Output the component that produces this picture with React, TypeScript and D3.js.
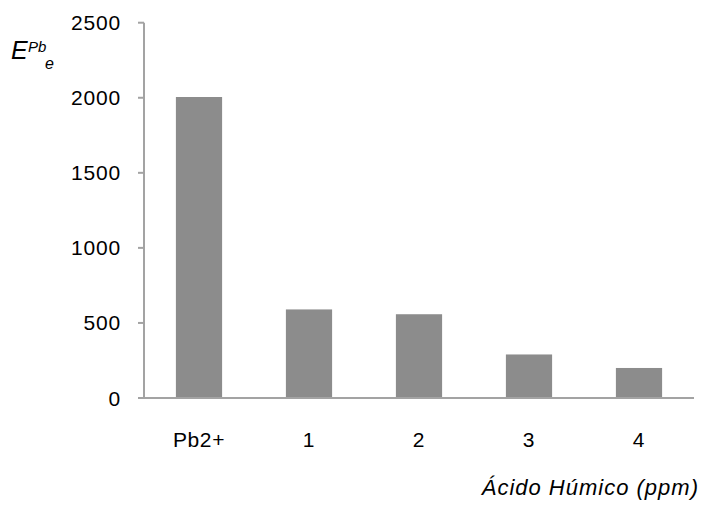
import React from "react";
import * as d3 from "d3";

const categories = ["Pb2+", "1", "2", "3", "4"];
const values = [2005, 590, 558, 290, 200];
const yTicks = [0, 500, 1000, 1500, 2000, 2500];

const W = 702;
const H = 506;
const left = 144;
const right = 694;
const bottom = 398;
const top = 22.7;

const AXIS = "#a3a3a3";
const BAR = "#8c8c8c";
const FONT = "'Liberation Sans', Arial, sans-serif";

export default function App() {
  const x = d3
    .scaleBand<string>()
    .domain(categories)
    .range([left, right])
    .paddingInner(0.58)
    .paddingOuter(0.29);
  const y = d3.scaleLinear().domain([0, 2500]).range([bottom, top]);

  return (
    <svg
      width={W}
      height={H}
      style={{ position: "absolute", left: 0, top: 0, display: "block", background: "#fff" }}
      fontFamily={FONT}
    >
      {/* bars */}
      {categories.map((c, i) => (
        <rect
          key={c}
          x={x(c)}
          y={y(values[i])}
          width={x.bandwidth()}
          height={y(0) - y(values[i])}
          fill={BAR}
        />
      ))}

      {/* y axis */}
      <line x1={left} x2={left} y1={top} y2={bottom} stroke={AXIS} strokeWidth={2} />
      {yTicks.map((t) => (
        <g key={t}>
          <line x1={left - 6} x2={left} y1={y(t)} y2={y(t)} stroke={AXIS} strokeWidth={2} />
          <text
            x={121}
            y={y(t) + 7.5}
            textAnchor="end"
            fontSize={21}
            letterSpacing={0.8}
            fill="#000"
          >
            {t}
          </text>
        </g>
      ))}

      {/* x axis */}
      <line x1={left - 6} x2={right} y1={bottom} y2={bottom} stroke={AXIS} strokeWidth={2} />
      {categories.map((c) => (
        <text
          key={c}
          x={(x(c) ?? 0) + x.bandwidth() / 2}
          y={447}
          textAnchor="middle"
          fontSize={21}
          letterSpacing={0.6}
          fill="#000"
        >
          {c}
        </text>
      ))}

      {/* axis titles */}
      <text x={699} y={495} textAnchor="end" fontSize={22} fontStyle="italic" letterSpacing={1} fill="#000">
        Ácido Húmico (ppm)
      </text>
      <text x={11} y={59} fontSize={25} fontStyle="italic" fill="#000">
        E
      </text>
      <text x={28} y={52} fontSize={15} fontStyle="italic" fill="#000">
        Pb
      </text>
      <text x={45} y={69} fontSize={16} fontStyle="italic" fill="#000">
        e
      </text>
    </svg>
  );
}
